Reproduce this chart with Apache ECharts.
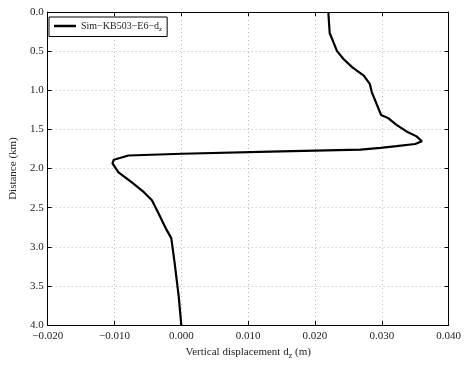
<!DOCTYPE html>
<html>
<head>
<meta charset="utf-8">
<script src="https://cdn.jsdelivr.net/npm/echarts@6/dist/echarts.min.js"></script>
<style>
  html, body { margin: 0; padding: 0; background: #fff; }
  #chart { width: 464px; height: 365px; }
</style>
</head>
<body>
<div id="chart"></div>
<script>
// Vertical displacement profile along distance (km)
const distanceKm = [
  0.000, 0.268, 0.394, 0.500, 0.604, 0.708, 0.814, 0.918, 1.023, 1.191,
  1.317, 1.358, 1.443, 1.526, 1.589, 1.652, 1.686, 1.714, 1.736, 1.757,
  1.780, 1.811, 1.833, 1.887, 1.933, 2.050, 2.176, 2.302, 2.406, 2.575,
  2.784, 2.889, 3.204, 3.623, 4.000
];
const displacementM = [
  0.0220, 0.0222, 0.0228, 0.0233, 0.0243, 0.0256, 0.0273, 0.0282, 0.0285, 0.0293,
  0.0299, 0.0310, 0.0322, 0.0337, 0.0352, 0.0360, 0.0350, 0.0322, 0.0298, 0.0268,
  0.0149, 0.0001, -0.0079, -0.0101, -0.0103, -0.0094, -0.0074, -0.0056, -0.0044, -0.0034,
  -0.0022, -0.0015, -0.0010, -0.0004, 0.0000
];
const seriesName = 'Sim\u2212KB503\u2212E6\u2212d';
const xTicks = { min: -0.02, max: 0.04, step: 0.01 };
const yTicks = { min: 0, max: 4, step: 0.5 };

const FONT = 'Liberation Serif';
const points = distanceKm.map((d, i) => [displacementM[i], d]);
const fmtX = v => (v < 0 ? '\u2212' : '') + Math.abs(v).toFixed(3);
const fmtY = v => v.toFixed(1);

const gridLine = { show: true, lineStyle: { color: '#b8b8b8', type: [1, 3], width: 1 } };
const axisLine = { show: true, onZero: false, lineStyle: { color: '#000', width: 1 } };
const tickIn = { show: true, inside: true, length: 4, lineStyle: { color: '#000' } };
const labelStyle = { fontFamily: FONT, fontSize: 11, color: '#222' };

const chart = echarts.init(document.getElementById('chart'), null, { renderer: 'canvas' });
chart.setOption({
  animation: false,
  backgroundColor: '#fff',
  grid: { left: 45, top: 12, right: 15, bottom: 35, containLabel: false },
  xAxis: [
    {
      type: 'value', position: 'bottom',
      min: xTicks.min, max: xTicks.max, interval: xTicks.step,
      axisLine, axisTick: tickIn, splitLine: gridLine,
      axisLabel: Object.assign({ formatter: fmtX, margin: 6 }, labelStyle),
      name: 'Vertical displacement d{sub|z} (m)',
      nameLocation: 'middle', nameGap: 17,
      nameTextStyle: {
        fontFamily: FONT, fontSize: 11, color: '#222',
        rich: { sub: { fontFamily: FONT, fontSize: 8, color: '#222', padding: [7, 0, 0, 0] } }
      }
    },
    {
      type: 'value', position: 'top',
      min: xTicks.min, max: xTicks.max, interval: xTicks.step,
      axisLine, axisTick: tickIn, splitLine: { show: false }, axisLabel: { show: false }
    }
  ],
  yAxis: [
    {
      type: 'value', position: 'left', inverse: true,
      min: yTicks.min, max: yTicks.max, interval: yTicks.step,
      axisLine, axisTick: tickIn, splitLine: gridLine,
      axisLabel: Object.assign({ formatter: fmtY, margin: 4 }, labelStyle),
      name: 'Distance (km)', nameLocation: 'middle', nameGap: 28, nameRotate: 90,
      nameTextStyle: { fontFamily: FONT, fontSize: 11, color: '#222' }
    },
    {
      type: 'value', position: 'right', inverse: true,
      min: yTicks.min, max: yTicks.max, interval: yTicks.step,
      axisLine, axisTick: tickIn, splitLine: { show: false }, axisLabel: { show: false }
    }
  ],
  legend: {
    left: 49, top: 17,
    orient: 'vertical',
    backgroundColor: '#fff',
    borderColor: '#000', borderWidth: 1, borderRadius: 0,
    padding: [4, 5, 4, 5],
    itemWidth: 22, itemHeight: 2.5, itemGap: 4,
    icon: 'rect',
    data: [{ name: seriesName, itemStyle: { color: '#000' } }],
    formatter: name => name + '{sub|z}',
    textStyle: {
      fontFamily: FONT, fontSize: 10, color: '#222',
      rich: { sub: { fontFamily: FONT, fontSize: 7, color: '#222', padding: [6, 0, 0, 0] } }
    }
  },
  series: [{
    name: seriesName,
    type: 'line',
    xAxisIndex: 0, yAxisIndex: 0,
    data: points,
    showSymbol: false,
    symbol: 'none',
    smooth: false,
    lineStyle: { color: '#000', width: 2.2 },
    itemStyle: { color: '#000' }
  }]
});
</script>
</body>
</html>
